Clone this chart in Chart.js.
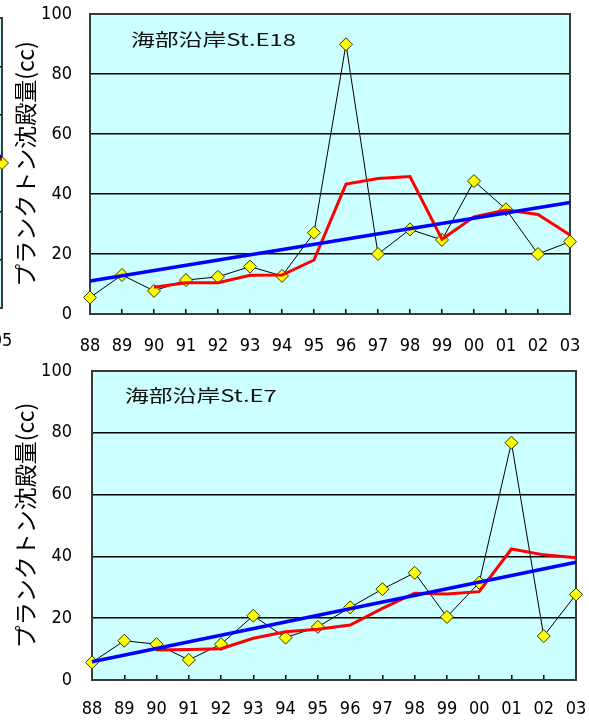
<!DOCTYPE html>
<html>
<head>
<meta charset="utf-8">
<script src="https://cdn.jsdelivr.net/npm/chart.js@4.4.1/dist/chart.umd.min.js"></script>
<style>
body { margin: 0; background: #fff; width: 589px; height: 724px; overflow: hidden; position: relative; }
.box { position: absolute; }
</style>
</head>
<body>
<div class="box" style="left:-300px;top:0;width:320px;height:362px"><canvas id="cNb"></canvas></div>
<div class="box" style="left:0;top:0;width:589px;height:362px"><canvas id="cE18"></canvas></div>
<div class="box" style="left:0;top:362px;width:589px;height:362px"><canvas id="cE7"></canvas></div>
<script>
// years on the x axis
const years = ['88', '89', '90', '91', '92', '93', '94', '95', '96', '97', '98', '99', '00', '01', '02', '03'];
const yTicks = [0, 20, 40, 60, 80, 100];

// St.E18 - plankton settling volume, 3-year average, trend line ends
const e18Vol = [5.5, 13, 7.7, 11.3, 12.4, 15.8, 12.7, 27.1, 89.9, 20, 28.2, 24.7, 44.3, 34.9, 20, 24.1];
const e18Avg = [null, null, 8.9, 10.4, 10.4, 12.9, 13, 18, 43.3, 45.2, 45.8, 24.9, 32.4, 34.7, 33.2, 26.3];
const e18Trend = [11, null, null, null, null, null, null, null, null, null, null, null, null, null, null, 37.2];

// St.E7
const e7Vol = [5.7, 12.7, 11.6, 6.5, 11.6, 20.8, 13.7, 17.2, 23.5, 29.4, 34.7, 20.4, 31.5, 76.8, 14.2, 27.7];
const e7Avg = [null, null, 9.7, 9.9, 10.1, 13.5, 15.6, 16.4, 17.8, 23.2, 28.1, 27.8, 28.6, 42.4, 40.5, 39.6];
const e7Trend = [5.9, null, null, null, null, null, null, null, null, null, null, null, null, null, null, 38.1];

// the edge of the neighbouring chart, cut off at the left
const nbYears = ['04', '05'];
const nbVol = [null, 60];
const nbAvg = [61.6, 61.6];
const nbTrend = [62.7, 62.7];

const yTitle = 'プランクトン沈殿量(cc)';
const jpFont = '"Noto Sans CJK JP", "DejaVu Sans", sans-serif';
const numFont = '"DejaVu Sans Condensed", "Liberation Sans Narrow", "DejaVu Sans", sans-serif';

// cyan plot background, frame and station name
const framePlugin = {
  id: 'frame',
  beforeDraw(chart) {
    const a = chart.chartArea, ctx = chart.ctx;
    ctx.save();
    ctx.fillStyle = '#ccffff';
    ctx.fillRect(a.left, a.top, a.right - a.left, a.bottom - a.top);
    ctx.restore();
  },
  beforeDatasetsDraw(chart) {
    const a = chart.chartArea, ctx = chart.ctx;
    ctx.save();
    ctx.strokeStyle = '#3a3a3a';
    ctx.lineWidth = 2;
    ctx.strokeRect(a.left, a.top, a.right - a.left, a.bottom - a.top);
    ctx.restore();
  },
  afterDraw(chart, args, opts) {
    if (!opts.text) return;
    const a = chart.chartArea, ctx = chart.ctx;
    ctx.save();
    ctx.fillStyle = '#111';
    ctx.font = '17px ' + jpFont;
    ctx.textBaseline = 'middle';
    ctx.translate(a.left + opts.dx, a.top + opts.dy);
    ctx.scale(1.4, 1);
    ctx.fillText(opts.text, 0, 0);
    ctx.restore();
  }
};

function makeChart(id, labels, vol, avg, trend, opt) {
  return new Chart(document.getElementById(id), {
    type: 'line',
    data: {
      labels: labels,
      datasets: [
        {
          data: trend,
          borderColor: '#0000ff',
          borderWidth: 3.5,
          pointRadius: 0,
          spanGaps: true,
          order: 1
        },
        {
          data: avg,
          borderColor: '#ff0000',
          borderWidth: 3,
          pointRadius: 0,
          order: 2
        },
        {
          data: vol,
          borderColor: '#000000',
          borderWidth: 1,
          pointStyle: 'rectRot',
          pointRadius: 6.5,
          pointBackgroundColor: '#ffff00',
          pointBorderColor: '#333300',
          pointBorderWidth: 1,
          order: 3
        }
      ]
    },
    options: {
      responsive: true,
      maintainAspectRatio: false,
      animation: false,
      layout: { padding: opt.padding },
      plugins: {
        legend: { display: false },
        tooltip: { enabled: false },
        frame: opt.frame || {}
      },
      scales: {
        x: {
          offset: false,
          afterFit: (axis) => {
            axis.height = opt.xHeight;
            axis.paddingLeft = 0;
            axis.paddingRight = 0;
          },
          grid: { drawOnChartArea: false, drawTicks: true, tickLength: -5, color: '#000', lineWidth: 1.5 },
          border: { display: false },
          ticks: { color: '#000', padding: opt.xPad, maxRotation: 0, autoSkip: false, font: { family: numFont, size: 18 } }
        },
        y: {
          min: 0,
          max: opt.yMax,
          afterFit: (axis) => {
            axis.width = opt.yWidth;
            axis.paddingTop = 0;
            axis.paddingBottom = 0;
          },
          afterBuildTicks: (axis) => { axis.ticks = opt.ticks.map(v => ({ value: v })); },
          grid: { drawTicks: false, color: '#000', lineWidth: 1.5 },
          border: { display: false },
          ticks: { color: '#000', padding: opt.yPad, font: { family: numFont, size: 18 } },
          title: {
            display: opt.showTitle,
            text: yTitle,
            color: '#000',
            padding: { top: 11, bottom: 0 },
            font: { family: jpFont, size: 23 }
          }
        }
      }
    },
    plugins: [framePlugin]
  });
}

makeChart('cNb', nbYears, nbVol, nbAvg, nbTrend, {
  padding: { top: 18, right: 18, bottom: 0, left: 0 },
  xHeight: 54, xPad: 28, yWidth: 60, yPad: 18, yMax: 120,
  ticks: [0, 20, 40, 60, 80, 100, 120], showTitle: false
});

makeChart('cE18', years, e18Vol, e18Avg, e18Trend, {
  padding: { top: 14, right: 19, bottom: 0, left: 0 },
  xHeight: 48, xPad: 27, yWidth: 90, yPad: 18, yMax: 100,
  ticks: yTicks, showTitle: true,
  frame: { text: '海部沿岸St.E18', dx: 41, dy: 26 }
});

makeChart('cE7', years, e7Vol, e7Avg, e7Trend, {
  padding: { top: 9, right: 13, bottom: 0, left: 0 },
  xHeight: 44, xPad: 24, yWidth: 92, yPad: 20, yMax: 100,
  ticks: yTicks, showTitle: true,
  frame: { text: '海部沿岸St.E7', dx: 33, dy: 25 }
});
</script>
</body>
</html>
